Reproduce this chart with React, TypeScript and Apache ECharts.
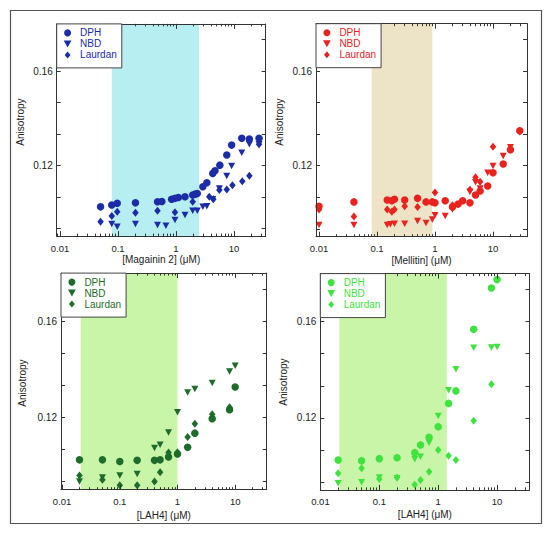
import React, { useEffect, useRef } from "react";
import * as echarts from "echarts";

const FONT = "Liberation Sans, Arial, sans-serif";

// ---- tick / label values ----
const xTickValues = [0.01, 0.1, 1, 10];
const xMinorValues = [
  0.002, 0.003, 0.004, 0.005, 0.006, 0.007, 0.008, 0.009,
  0.02, 0.03, 0.04, 0.05, 0.06, 0.07, 0.08, 0.09,
  0.2, 0.3, 0.4, 0.5, 0.6, 0.7, 0.8, 0.9,
  2, 3, 4, 5, 6, 7, 8, 9,
  20, 30, 40, 50, 60, 70, 80, 90,
];
const yLabelValues = [0.12, 0.16];
const yTickValues = [0.09333, 0.10667, 0.12, 0.13333, 0.14667, 0.16, 0.17333];
const seriesNames = ["DPH", "NBD", "Laurdan"];
const axisTitlesX = ["[Magainin 2] (\u03bcM)", "[Mellitin] (\u03bcM)", "[LAH4] (\u03bcM)", "[LAH4] (\u03bcM)"];
const axisTitleY = "Anisotropy";

// ---- Panel 1: Magainin 2 ----
const magDphX = [0.05, 0.078, 0.097, 0.2, 0.48, 0.57, 0.84, 0.96, 1.1, 1.43, 1.94, 2.13, 2.33, 2.9, 3.4, 4.3, 4.7, 5.7, 7.5, 9.1, 13.6, 18.4, 27];
const magDphY = [0.1024, 0.1032, 0.1039, 0.1041, 0.1046, 0.1047, 0.1056, 0.106, 0.1064, 0.1067, 0.1074, 0.1078, 0.1081, 0.1109, 0.1126, 0.1166, 0.1177, 0.1201, 0.1244, 0.1286, 0.1315, 0.1312, 0.1315];
const magNbdX = [0.078, 0.097, 0.2, 0.48, 0.67, 0.96, 1.43, 1.94, 2.33, 2.9, 3.4, 4.3, 5.6, 7.5, 9.1, 13.6, 18.4, 27];
const magNbdY = [0.0951, 0.094, 0.0951, 0.0947, 0.0944, 0.0968, 0.0989, 0.1007, 0.1007, 0.1024, 0.1027, 0.1056, 0.1102, 0.1155, 0.1197, 0.1253, 0.129, 0.129];
const magLauX = [0.05, 0.078, 0.097, 0.2, 0.48, 0.96, 1.94, 3.75, 4.4, 5.6, 7.5, 9.4, 13.9, 18.4, 27];
const magLauY = [0.0961, 0.0985, 0.1003, 0.0999, 0.1007, 0.1001, 0.1046, 0.1067, 0.1056, 0.1095, 0.1098, 0.1116, 0.1133, 0.1156, 0.129];

// ---- Panel 2: Mellitin ----
const melDphX = [0.01, 0.04, 0.15, 0.18, 0.2, 0.3, 0.5, 0.7, 0.9, 1.0, 1.5, 2, 2.5, 3, 4, 5, 6, 8.1, 10, 15, 20, 29];
const melDphY = [0.1029, 0.1047, 0.1055, 0.1052, 0.1058, 0.1055, 0.1062, 0.1047, 0.1047, 0.1043, 0.1052, 0.1026, 0.1038, 0.1052, 0.1043, 0.1076, 0.1093, 0.1114, 0.117, 0.1207, 0.1267, 0.1348];
const melNbdX = [0.01, 0.04, 0.15, 0.17, 0.2, 0.3, 0.5, 0.7, 0.9, 1.0, 1.5, 2, 2.5, 4, 5, 6, 8.1, 10, 15, 20];
const melNbdY = [0.0949, 0.0949, 0.0949, 0.0953, 0.0955, 0.0955, 0.0966, 0.0958, 0.0973, 0.0991, 0.0987, 0.1015, 0.1033, 0.109, 0.113, 0.1104, 0.117, 0.1199, 0.1241, 0.1278];
const melLauX = [0.01, 0.04, 0.15, 0.18, 0.2, 0.3, 0.5, 1.0, 2, 4, 5, 6, 10, 29];
const melLauY = [0.1015, 0.0985, 0.1015, 0.1005, 0.1015, 0.1029, 0.1026, 0.1087, 0.1033, 0.1098, 0.1151, 0.1132, 0.128, 0.1345];

// ---- Panel 3: LAH4 (dark green) ----
const lahAX = [0.02, 0.05, 0.1, 0.2, 0.4, 0.5, 0.7, 1.0, 1.5, 2, 4, 8, 10];
const lahADphY = [0.1024, 0.1024, 0.1017, 0.1022, 0.1022, 0.1024, 0.1036, 0.1048, 0.1076, 0.1135, 0.1195, 0.1232, 0.1327];
const lahANbdY = [0.0934, 0.0951, 0.0959, 0.0965, 0.1073, 0.1087, 0.1138, 0.1222, 0.1304, 0.1318, 0.1343, 0.1391, 0.1415];
const lahALauX = [0.02, 0.05, 0.1, 0.2, 0.4, 0.5, 0.7, 1.0, 1.5, 2, 4, 8];
const lahALauY = [0.0959, 0.0941, 0.0918, 0.0918, 0.0934, 0.0972, 0.1055, 0.1056, 0.1119, 0.1174, 0.1214, 0.1243];

// ---- Panel 4: LAH4 (bright green) ----
const lahBX = [0.02, 0.05, 0.1, 0.2, 0.4, 0.5, 0.7, 1, 1.5, 2, 4, 8, 10];
const lahBDphY = [0.1024, 0.1021, 0.103, 0.1034, 0.1055, 0.1087, 0.1119, 0.1163, 0.126, 0.1312, 0.1568, 0.174, 0.1775];
const lahBNbdY = [0.0928, 0.0932, 0.0952, 0.0948, 0.1028, 0.1038, 0.1096, 0.1207, 0.1315, 0.1402, 0.1491, 0.1492, 0.1495];
const lahBLauX = [0.02, 0.05, 0.1, 0.2, 0.4, 0.5, 0.7, 1, 1.5, 2, 4, 8];
const lahBLauY = [0.0969, 0.099, 0.0945, 0.0952, 0.0921, 0.0941, 0.0976, 0.1066, 0.1042, 0.1024, 0.1188, 0.134];

// ---- shaded ranges (x) ----
const shadeRanges = [
  [0.078, 2.5],
  [0.081, 0.9],
  [0.021, 1.0],
  [0.021, 1.4],
];

const zip = (xs: number[], ys: number[]) => xs.map((x, i) => [x, ys[i]]);

const panelSeries = [
  [zip(magDphX, magDphY), zip(magNbdX, magNbdY), zip(magLauX, magLauY)],
  [zip(melDphX, melDphY), zip(melNbdX, melNbdY), zip(melLauX, melLauY)],
  [zip(lahAX, lahADphY), zip(lahAX, lahANbdY), zip(lahALauX, lahALauY)],
  [zip(lahBX, lahBDphY), zip(lahBX, lahBNbdY), zip(lahBLauX, lahBLauY)],
];

// layout & style
const panels = [
  { left: 56.7, top: 23.9, width: 209, height: 212.2, xMin: 0.00877, xMax: 35.2, color: "#1b2ca6", shade: "#b6eef2", yTitle: [20.7, 122], xTitle: [161.2, 259] },
  { left: 316, top: 23.7, width: 211, height: 213, xMin: 0.00887, xMax: 38.6, color: "#e8231f", shade: "#ede3c6", yTitle: [279.5, 122], xTitle: [421.5, 260] },
  { left: 61, top: 273.1, width: 205.7, height: 216.6, xMin: 0.00957, xMax: 35.2, color: "#1f6b2b", shade: "#c9f5a8", yTitle: [22.7, 383], xTitle: [163.8, 515.5] },
  { left: 320.3, top: 273.6, width: 209.2, height: 216.3, xMin: 0.00995, xMax: 35.5, color: "#3fe23f", shade: "#c9f5a8", yTitle: [283.3, 382], xTitle: [424.9, 514.5] },
];

const SYMBOLS = ["circle", "path://M0,0L10,0L5,9Z", "path://M5,0L10,6L5,12L0,6Z"];
const SIZES: any[] = [7.5, [7, 6.5], [6.5, 8]];
const AXIS_COLOR = "#333";

export default function App() {
  const ref = useRef<HTMLDivElement>(null);
  useEffect(() => {
    document.body.style.margin = "0";
    if (!ref.current) return;
    const chart = echarts.init(ref.current, null, { renderer: "svg" });

    const grid: any[] = [];
    const xAxis: any[] = [];
    const yAxis: any[] = [];
    const series: any[] = [];
    const legend: any[] = [];
    const graphic: any[] = [
      {
        type: "rect",
        silent: true,
        z: -1,
        shape: { x: 10.5, y: 10.5, width: 531, height: 513 },
        style: { fill: "none", stroke: "#555", lineWidth: 1.2 },
      },
    ];

    panels.forEach((p, i) => {
      grid.push({ left: p.left, top: p.top, width: p.width, height: p.height, containLabel: false, outerBoundsMode: "none" });
      const baseX = {
        type: "log",
        logBase: 10,
        gridIndex: i,
        min: p.xMin,
        max: p.xMax,
        z: 5,
        splitLine: { show: false },
        minorTick: { show: false },
        minorSplitLine: { show: false },
      };
      xAxis.push({
        ...baseX,
        position: "bottom",
        axisLine: { show: true, onZero: false, lineStyle: { color: AXIS_COLOR, width: 1 } },
        axisTick: { show: true, inside: true, length: 5, customValues: xTickValues, lineStyle: { color: AXIS_COLOR } },
        axisLabel: { show: true, customValues: xTickValues, margin: 7, fontSize: 9.5, color: "#222", fontFamily: FONT, formatter: (v: number) => String(v) },
      });
      xAxis.push({
        ...baseX,
        position: "bottom",
        axisLine: { show: false, onZero: false },
        axisTick: { show: true, inside: true, length: 2.5, customValues: xMinorValues, lineStyle: { color: AXIS_COLOR } },
        axisLabel: { show: false },
      });
      xAxis.push({
        ...baseX,
        position: "top",
        axisLine: { show: true, onZero: false, lineStyle: { color: AXIS_COLOR, width: 1 } },
        axisTick: { show: true, inside: true, length: 5, customValues: xTickValues, lineStyle: { color: AXIS_COLOR } },
        axisLabel: { show: false },
      });
      xAxis.push({
        ...baseX,
        position: "top",
        axisLine: { show: false, onZero: false },
        axisTick: { show: true, inside: true, length: 2.5, customValues: xMinorValues, lineStyle: { color: AXIS_COLOR } },
        axisLabel: { show: false },
      });
      const baseY = {
        type: "value",
        gridIndex: i,
        min: 0.09,
        max: 0.18,
        z: 5,
        splitLine: { show: false },
        axisLine: { show: true, onZero: false, lineStyle: { color: AXIS_COLOR, width: 1 } },
        axisTick: { show: true, inside: true, length: 4, customValues: yTickValues, lineStyle: { color: AXIS_COLOR } },
      };
      yAxis.push({
        ...baseY,
        position: "left",
        axisLabel: { show: true, customValues: yLabelValues, margin: 4, fontSize: 10, color: "#222", fontFamily: FONT, formatter: (v: number) => v.toFixed(2) },
      });
      yAxis.push({ ...baseY, position: "right", axisLabel: { show: false } });

      const names = seriesNames.map((n) => `${n}#${i}`);
      panelSeries[i].forEach((data, k) => {
        const s: any = {
          type: "scatter",
          name: names[k],
          xAxisIndex: i * 4,
          yAxisIndex: i * 2,
          symbol: SYMBOLS[k],
          symbolSize: SIZES[k],
          itemStyle: { color: p.color, opacity: 1 },
          data,
          z: 3,
        };
        if (k === 0) {
          s.markArea = {
            silent: true,
            z: 1,
            itemStyle: { color: p.shade, opacity: 1 },
            label: { show: false },
            data: [[{ xAxis: shadeRanges[i][0] }, { xAxis: shadeRanges[i][1] }]],
          };
        }
        series.push(s);
      });

      legend.push({
        orient: "vertical",
        left: p.left,
        top: p.top,
        data: names,
        formatter: (n: string) => n.split("#")[0],
        selectedMode: false,
        backgroundColor: "#fff",
        borderColor: "#444",
        borderWidth: 1,
        borderRadius: 0,
        padding: [4, 5, 8, 7],
        itemGap: 1,
        itemWidth: 15,
        itemHeight: 7,
        z: 8,
        textStyle: { color: p.color, fontSize: 10, fontFamily: FONT, lineHeight: 10 },
      });

      graphic.push({
        type: "text",
        x: p.yTitle[0],
        y: p.yTitle[1],
        rotation: Math.PI / 2,
        silent: true,
        style: { text: axisTitleY, fontSize: 10, fontFamily: FONT, fill: "#222", align: "center", verticalAlign: "middle" },
      });
      graphic.push({
        type: "text",
        x: p.xTitle[0],
        y: p.xTitle[1],
        silent: true,
        style: { text: axisTitlesX[i], fontSize: 10, fontFamily: FONT, fill: "#222", align: "center", verticalAlign: "middle" },
      });
    });

    chart.setOption({
      animation: false,
      backgroundColor: "#fff",
      textStyle: { fontFamily: FONT },
      grid,
      xAxis,
      yAxis,
      series,
      legend,
      graphic,
    });
    return () => chart.dispose();
  }, []);
  return <div ref={ref} style={{ width: 550, height: 534 }} />;
}
